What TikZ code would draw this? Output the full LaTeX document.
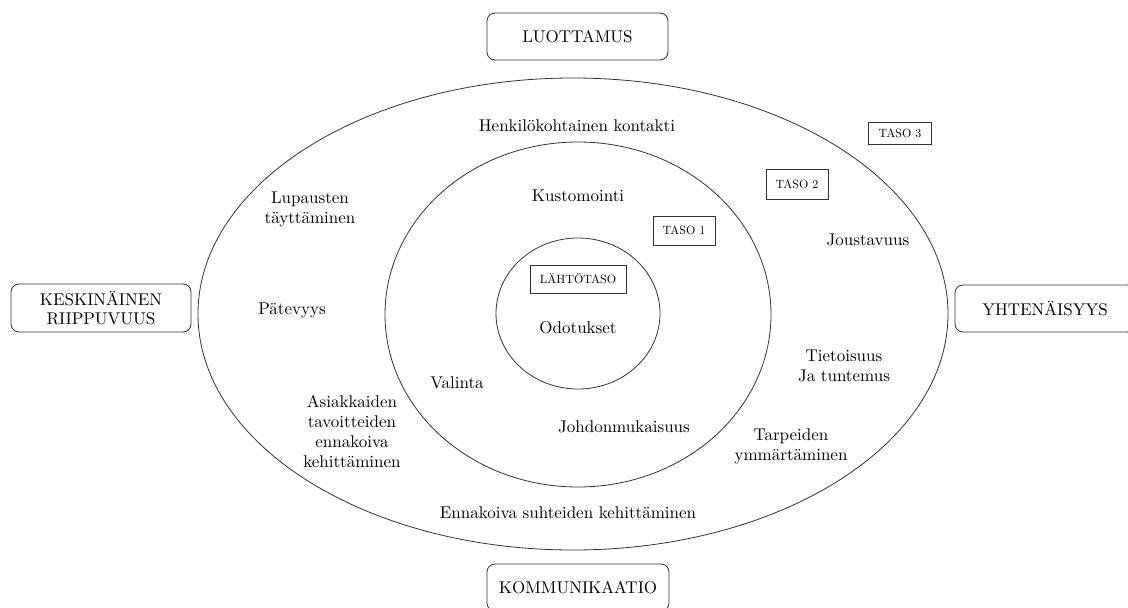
\documentclass[tikz,border=0pt]{standalone}
\usepackage{fontspec}
\setmainfont{lmroman10-regular}[Extension=.otf, BoldFont=lmroman10-bold, ItalicFont=lmroman10-italic]
\begin{document}
\begin{tikzpicture}[x=1pt,y=-1pt,
  line width=0.8pt,
  txt/.style={font=\fontsize{17}{20}\selectfont, align=center, inner sep=0pt, text=black},
  mainbox/.style={draw=black!80, rounded corners=8pt, font=\fontsize{17}{19}\selectfont, align=center, inner sep=0pt, text=black},
  levelbox/.style={draw=black!80, font=\fontsize{12}{14}\selectfont, inner sep=0pt, text=black},
  ring/.style={draw=black!80}]
\useasboundingbox (0,0) rectangle (1128,608);
\fill[white] (0,0) rectangle (1128,608);

% ellipses
\draw[ring] (573,314) ellipse [x radius=375, y radius=236];
\draw[ring] (578,314.5) ellipse [x radius=193, y radius=172.5];
\draw[ring] (578,313.5) ellipse [x radius=82, y radius=75.5];

% outer boxes
\node[mainbox, minimum width=181pt, minimum height=47pt] (luot) at (577.5,36.5) {LUOTTAMUS};
\node[mainbox, minimum width=180pt, minimum height=48pt] (kesk) at (101,308) {KESKINÄINEN\\RIIPPUVUUS};
\node[mainbox, minimum width=180pt, minimum height=47pt] (yht) at (1045,308.5) {YHTENÄISYYS};
\node[mainbox, minimum width=182pt, minimum height=47pt] (komm) at (578,587.5) {KOMMUNIKAATIO};

% level boxes
\node[levelbox, minimum width=96pt, minimum height=28pt] (lahto) at (578,279) {LÄHTÖTASO};
\node[levelbox, minimum width=62pt, minimum height=29pt] (taso1) at (684,230.5) {TASO 1};
\node[levelbox, minimum width=62pt, minimum height=30pt] (taso2) at (797,184) {TASO 2};
\node[levelbox, minimum width=63pt, minimum height=22pt] (taso3) at (900,133.5) {TASO 3};

% texts
\node[txt] (henk) at (577,126) {Henkilökohtainen kontakti};
\node[txt] (kust) at (578,196) {Kustomointi};
\node[txt] (lup) at (310,209) {Lupausten\\täyttäminen};
\node[txt] (pat) at (292,310) {Pätevyys};
\node[txt] (odo) at (578,328) {Odotukset};
\node[txt] (val) at (457,383) {Valinta};
\node[txt] (asi) at (352,432) {Asiakkaiden\\tavoitteiden\\ennakoiva\\kehittäminen};
\node[txt] (joh) at (624,427) {Johdonmukaisuus};
\node[txt] (enn) at (568,513) {Ennakoiva suhteiden kehittäminen};
\node[txt] (jou) at (868,240) {Joustavuus};
\node[txt] (tie) at (844,366) {Tietoisuus\\Ja tuntemus};
\node[txt] (tar) at (791,446) {Tarpeiden\\ymmärtäminen};
\end{tikzpicture}
\end{document}
